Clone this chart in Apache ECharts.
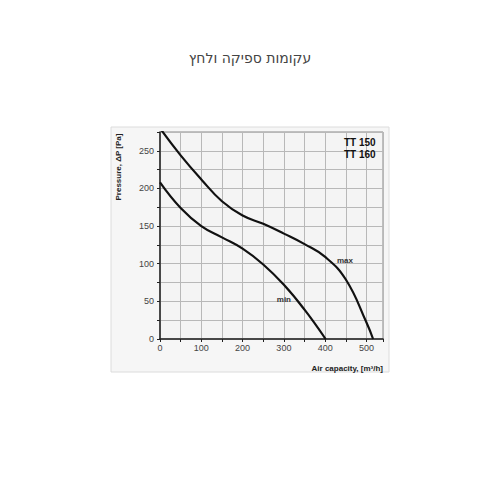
<!DOCTYPE html>
<html>
<head>
<meta charset="utf-8">
<script src="https://cdn.jsdelivr.net/npm/echarts@6/dist/echarts.min.js"></script>
<style>
  html, body { margin: 0; padding: 0; background: #fff; }
  #chart { width: 500px; height: 500px; }
</style>
</head>
<body>
<div id="chart"></div>
<script>
// 曲线数据 [风量 m³/h, 压力 Pa]
const maxCurve = [[0, 280], [50, 244], [100, 212], [150, 183], [200, 164], [250, 153], [300, 140],
  [350, 126], [400, 109], [450, 79], [500, 22], [516, 0]]
const minCurve = [[0, 208], [50, 174], [100, 150], [150, 135], [200, 120], [250, 99], [300, 72],
  [350, 39], [401, 0]]
const xLabels = [0, 100, 200, 300, 400, 500]
const yLabels = [0, 50, 100, 150, 200, 250]
const modelNames = ['TT 150', 'TT 160']

// SVG 渲染，让浏览器处理希伯来文的从右到左排版
const chart = echarts.init(document.getElementById('chart'), null, { renderer: 'svg' })

function curveLabel(name, coord) {
  return {
    symbol: 'circle',
    symbolSize: 0,
    silent: true,
    data: [{
      coord,
      label: {
        show: true,
        position: 'inside',
        formatter: name,
        color: '#333',
        fontSize: 8,
        fontWeight: 'bold',
        fontFamily: 'Arial, Liberation Sans, sans-serif'
      }
    }]
  }
}

const option = {
  animation: false,
  backgroundColor: '#fff',
  title: {
    text: 'עקומות ספיקה ולחץ',
    left: 'center',
    top: 46,
    textStyle: { fontSize: 14, fontWeight: 'normal', color: '#444', fontFamily: 'DejaVu Sans, sans-serif' }
  },
  graphic: [
    {
      type: 'rect', z: -10,
      shape: { x: 111, y: 127, width: 278, height: 245 },
      style: { fill: '#f6f6f6', stroke: '#dcdcdc', lineWidth: 1 }
    },
    {
      type: 'text', x: 118, y: 167, rotation: Math.PI / 2,
      style: {
        text: 'Pressure, ΔP [Pa]', fill: '#222', fontSize: 8, fontWeight: 'bold',
        fontFamily: 'Arial, Liberation Sans, sans-serif', align: 'center', verticalAlign: 'middle'
      }
    },
    {
      type: 'text', x: 383, y: 368,
      style: {
        text: 'Air capacity, [m³/h]', fill: '#222', fontSize: 8, fontWeight: 'bold',
        fontFamily: 'Arial, Liberation Sans, sans-serif', align: 'right', verticalAlign: 'middle'
      }
    },
    {
      type: 'text', x: 344, y: 136, z: 10,
      style: {
        text: modelNames.join('\n'), fill: '#111', fontSize: 10, fontWeight: 'bold', lineHeight: 12,
        fontFamily: 'Arial, Liberation Sans, sans-serif', align: 'left', verticalAlign: 'top'
      }
    }
  ],
  grid: {
    left: 160, right: 117, top: 132, bottom: 161,
    show: true, backgroundColor: '#f4f4f4', borderColor: '#888', borderWidth: 1
  },
  xAxis: {
    type: 'value', min: 0, max: 540, interval: 50,
    axisLine: { lineStyle: { color: '#222', width: 1.5 } },
    axisTick: { show: true, length: 3, lineStyle: { color: '#222' } },
    axisLabel: {
      color: '#444', fontSize: 9, margin: 4,
      fontFamily: 'Arial, Liberation Sans, sans-serif',
      formatter: v => xLabels.includes(v) ? String(v) : ''
    },
    splitLine: { show: true, lineStyle: { color: '#b8b8b8', width: 1 } }
  },
  yAxis: {
    type: 'value', min: 0, max: 275, interval: 25,
    axisLine: { show: true, lineStyle: { color: '#222', width: 1.5 } },
    axisTick: { show: true, length: 3, lineStyle: { color: '#222' } },
    axisLabel: {
      color: '#444', fontSize: 9, margin: 6,
      fontFamily: 'Arial, Liberation Sans, sans-serif',
      formatter: v => yLabels.includes(v) ? String(v) : ''
    },
    splitLine: { show: true, lineStyle: { color: '#b8b8b8', width: 1 } }
  },
  series: [
    {
      name: 'max', type: 'line', data: maxCurve, smooth: 0.45, showSymbol: false,
      clip: true,
      lineStyle: { color: '#111', width: 2.2 },
      markPoint: curveLabel('max', [448, 104])
    },
    {
      name: 'min', type: 'line', data: minCurve, smooth: 0.45, showSymbol: false,
      clip: true,
      lineStyle: { color: '#111', width: 2.2 },
      markPoint: curveLabel('min', [300, 52])
    }
  ]
}

chart.setOption(option)
</script>
</body>
</html>
